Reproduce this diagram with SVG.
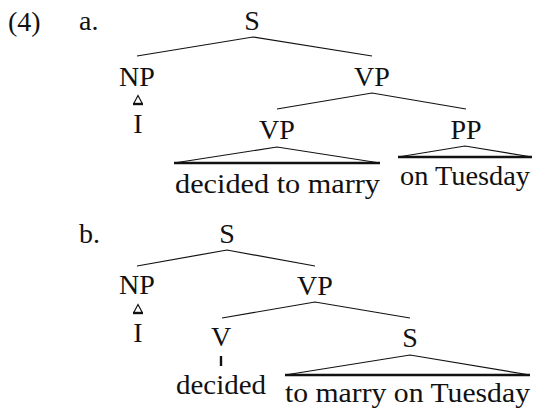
<svg xmlns="http://www.w3.org/2000/svg" width="534" height="413" viewBox="0 0 534 413">
<style>
text{font-family:"Liberation Serif","DejaVu Serif",serif;font-size:28px;fill:#111;text-anchor:middle}
.l{text-anchor:start}
.e{fill:none;stroke:#111;stroke-width:1.2}
.b{fill:none;stroke:#111;stroke-width:2.4}
.t{fill:none;stroke:#111;stroke-width:1.2}
</style>
<rect width="534" height="413" fill="#fff"/>
<g id="labels" font-family="Liberation Serif, DejaVu Serif, serif">
<text class="l" x="8" y="31">(4)</text>
<text class="l" x="79" y="30">a.</text>
<text class="l" x="79" y="243">b.</text>
</g>
<g id="a-S"><text x="252" y="30">S</text></g>
<g id="a-NP"><text x="137" y="86">NP</text></g>
<g id="a-I"><text x="138" y="133">I</text></g>
<g id="a-VP"><text x="372" y="86">VP</text></g>
<g id="a-VP2"><text x="277" y="139">VP</text></g>
<g id="a-PP"><text x="466" y="139">PP</text></g>
<g id="a-decided"><text x="277.5" y="193" textLength="205" lengthAdjust="spacingAndGlyphs">decided to marry</text></g>
<g id="a-tuesday"><text x="465" y="185" textLength="130" lengthAdjust="spacingAndGlyphs">on Tuesday</text></g>
<g id="b-S"><text x="227" y="243">S</text></g>
<g id="b-NP"><text x="137" y="294">NP</text></g>
<g id="b-I"><text x="138" y="342">I</text></g>
<g id="b-VP"><text x="315" y="295">VP</text></g>
<g id="b-V"><text x="221" y="346">V</text></g>
<g id="b-decided"><text x="221" y="394" textLength="90" lengthAdjust="spacingAndGlyphs">decided</text></g>
<g id="b-S2"><text x="410" y="347">S</text></g>
<g id="b-rest"><text x="407.5" y="402" textLength="245" lengthAdjust="spacingAndGlyphs">to marry on Tuesday</text></g>
<g id="connectors">
<path class="e" d="M137 56L253 37L372 56"/>
<path class="e" d="M277 109L372 93L466 109"/>
<path class="t" d="M174 163L277 147L380 163"/>
<path class="b" d="M174 163H380"/>
<path class="t" d="M398 157L465 146L532 157"/>
<path class="b" d="M398 157H532"/>
<path class="t" d="M133.5 104L138 95.5L142.5 104"/>
<path class="b" d="M133 104H143"/>
<path class="e" d="M137 266L227 250L315 266"/>
<path class="e" d="M222 318L315 302L410 318"/>
<path class="t" d="M133.5 313L138 304.5L142.5 313"/>
<path class="b" d="M133 313H143"/>
<path class="b" d="M221 356V366"/>
<path class="t" d="M285 375L410 355L530 375"/>
<path class="b" d="M285 375H530"/>
</g>
</svg>
